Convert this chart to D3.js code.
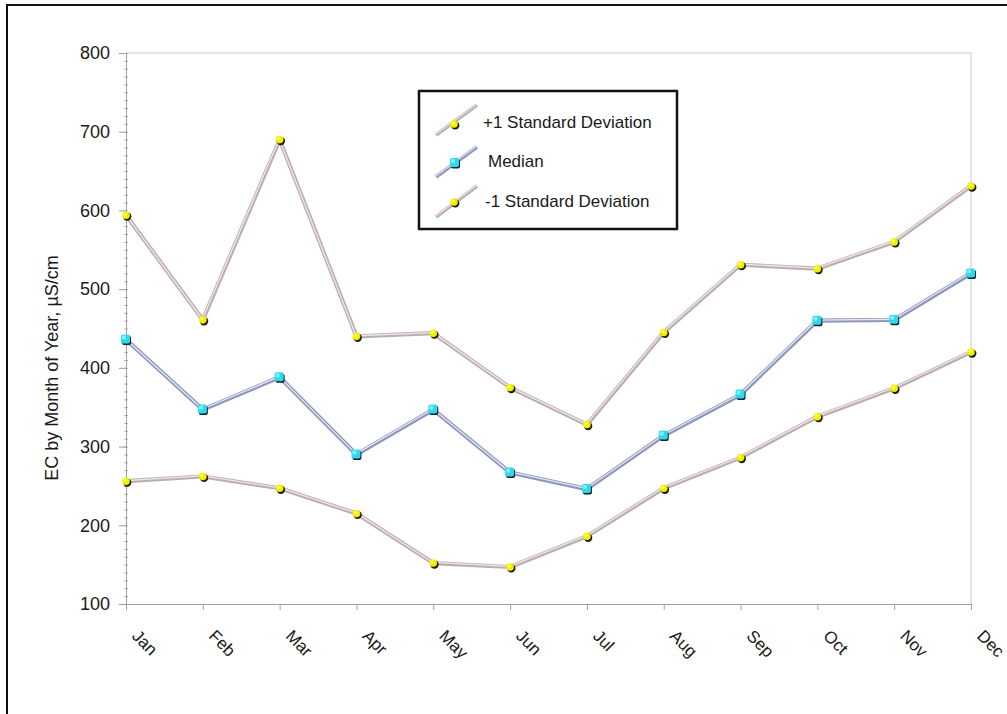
<!DOCTYPE html>
<html>
<head>
<meta charset="utf-8">
<script src="https://cdn.jsdelivr.net/npm/d3@7"></script>
<style>
  html, body { margin: 0; padding: 0; background: #fff; }
  svg { display: block; }
  text { font-family: "Liberation Sans", Arial, Helvetica, sans-serif; fill: #1a1a1a; }
</style>
</head>
<body>
<svg id="chart" width="1007" height="714"></svg>
<script>
const months = ["Jan","Feb","Mar","Apr","May","Jun","Jul","Aug","Sep","Oct","Nov","Dec"];
const plusOneSD = [594, 461, 690, 440, 444, 375, 328, 445, 531, 526, 560, 631];
const medianVals = [436, 347, 388, 290, 347, 267, 246, 314, 366, 460, 461, 520];
const minusOneSD = [256, 262, 247, 215, 152, 147, 186, 247, 286, 338, 374, 420];
const yTicks = [100, 200, 300, 400, 500, 600, 700, 800];
const legendLabels = ["+1 Standard Deviation", "Median", "-1 Standard Deviation"];
const yTitle = "EC by Month of Year, \u00B5S/cm";

const svg = d3.select("#chart");
const plot = { left: 126, right: 971, top: 53, bottom: 604 };

const x = d3.scalePoint().domain(months).range([plot.left, plot.right]);
const y = d3.scaleLinear().domain([100, 800]).range([plot.bottom, plot.top]);

// outer border
svg.append("rect").attr("x", 7).attr("y", 5).attr("width", 1020).attr("height", 730)
  .attr("fill", "none").attr("stroke", "#111").attr("stroke-width", 2);

// plot area border (top & right)
svg.append("path")
  .attr("d", `M${plot.left},${plot.top}H${plot.right}V${plot.bottom}`)
  .attr("fill", "none").attr("stroke", "#dcdcdc").attr("stroke-width", 1.5);

// Y axis with minor ticks
const minor = d3.range(100, 801, 10);
const yMinor = svg.append("g").attr("transform", `translate(${plot.left + 2},0)`)
  .call(d3.axisLeft(y).tickValues(minor).tickSize(4).tickFormat(""));
yMinor.select(".domain").remove();
yMinor.selectAll("line").attr("stroke", "#b0b0b0");

const yAxis = svg.append("g").attr("transform", `translate(${plot.left},0)`)
  .call(d3.axisLeft(y).tickValues(yTicks).tickSizeInner(7).tickSizeOuter(0).tickPadding(9));
yAxis.select(".domain").attr("stroke", "#a0a0a0");
yAxis.selectAll(".tick line").attr("stroke", "#a0a0a0");
yAxis.selectAll(".tick text").attr("font-size", 18).attr("fill", "#1a1a1a")
  .style("font-family", "'Liberation Sans', Arial, sans-serif");

// X axis
const xAxis = svg.append("g").attr("transform", `translate(0,${plot.bottom})`)
  .call(d3.axisBottom(x).tickSizeInner(6).tickSizeOuter(0).tickFormat(""));
xAxis.select(".domain").attr("stroke", "#a0a0a0");
xAxis.selectAll(".tick line").attr("stroke", "#a0a0a0");

svg.append("g").selectAll("text").data(months).join("text")
  .attr("transform", d => `translate(${x(d) + 5},637) rotate(45)`)
  .attr("font-size", 17)
  .text(d => d);

// Y title
svg.append("text")
  .attr("transform", `translate(58,368) rotate(-90)`)
  .attr("text-anchor", "middle")
  .attr("font-size", 18)
  .text(yTitle);

// series
const seriesDefs = [
  { vals: plusOneSD, outer: "#bcaeae", inner: "#efe7e7", marker: "circle" },
  { vals: medianVals, outer: "#8f96bd", inner: "#e4e7f6", marker: "square" },
  { vals: minusOneSD, outer: "#bcaeae", inner: "#efe7e7", marker: "circle" }
];

const line = d3.line().x((d, i) => x(months[i])).y(d => y(d));

function drawMarker(g, type, cx, cy) {
  if (type === "circle") {
    g.append("circle").attr("cx", cx + 1.2).attr("cy", cy + 1.4).attr("r", 4.2).attr("fill", "#1e1e10");
    g.append("circle").attr("cx", cx).attr("cy", cy).attr("r", 3.8).attr("fill", "#f2f000");
    g.append("circle").attr("cx", cx - 0.8).attr("cy", cy - 1).attr("r", 1.6).attr("fill", "#ffff60");
  } else {
    g.append("rect").attr("x", cx - 4).attr("y", cy - 3.5).attr("width", 9).attr("height", 9)
      .attr("rx", 2).attr("fill", "#102028");
    g.append("rect").attr("x", cx - 5).attr("y", cy - 5).attr("width", 9).attr("height", 9)
      .attr("rx", 2).attr("fill", "#2fd8ea");
    g.append("rect").attr("x", cx - 4).attr("y", cy - 4).attr("width", 4).attr("height", 4)
      .attr("rx", 1).attr("fill", "#7af0fa");
  }
}

seriesDefs.forEach(s => {
  const g = svg.append("g");
  g.append("path").datum(s.vals).attr("d", line).attr("fill", "none")
    .attr("stroke", s.outer).attr("stroke-width", 4.2).attr("stroke-linejoin", "round");
  g.append("path").datum(s.vals).attr("d", line).attr("fill", "none")
    .attr("transform", "translate(-0.4,-0.6)")
    .attr("stroke", s.inner).attr("stroke-width", 1.3).attr("stroke-linejoin", "round");
  s.vals.forEach((v, i) => drawMarker(g, s.marker, x(months[i]), y(v)));
});

// legend
const lg = svg.append("g");
lg.append("rect").attr("x", 419).attr("y", 91).attr("width", 258).attr("height", 138)
  .attr("fill", "#fff").attr("stroke", "#111").attr("stroke-width", 2.5);

const legendRows = [
  { y0: 135, y1: 105, mx: 454, my: 124, tx: 483, ty: 128 },
  { y0: 177, y1: 147, mx: 455, my: 163, tx: 488, ty: 167 },
  { y0: 217, y1: 186, mx: 454, my: 202, tx: 485, ty: 207 }
];
legendRows.forEach((r, i) => {
  const s = seriesDefs[i];
  lg.append("line").attr("x1", 436).attr("y1", r.y0).attr("x2", 477).attr("y2", r.y1)
    .attr("stroke", s.outer).attr("stroke-width", 3.5);
  lg.append("line").attr("x1", 436).attr("y1", r.y0).attr("x2", 477).attr("y2", r.y1)
    .attr("transform", "translate(-0.4,-0.6)")
    .attr("stroke", s.inner).attr("stroke-width", 1.1);
  drawMarker(lg, s.marker, r.mx, r.my);
  lg.append("text").attr("x", r.tx).attr("y", r.ty).attr("font-size", 17).text(legendLabels[i]);
});
</script>
</body>
</html>
